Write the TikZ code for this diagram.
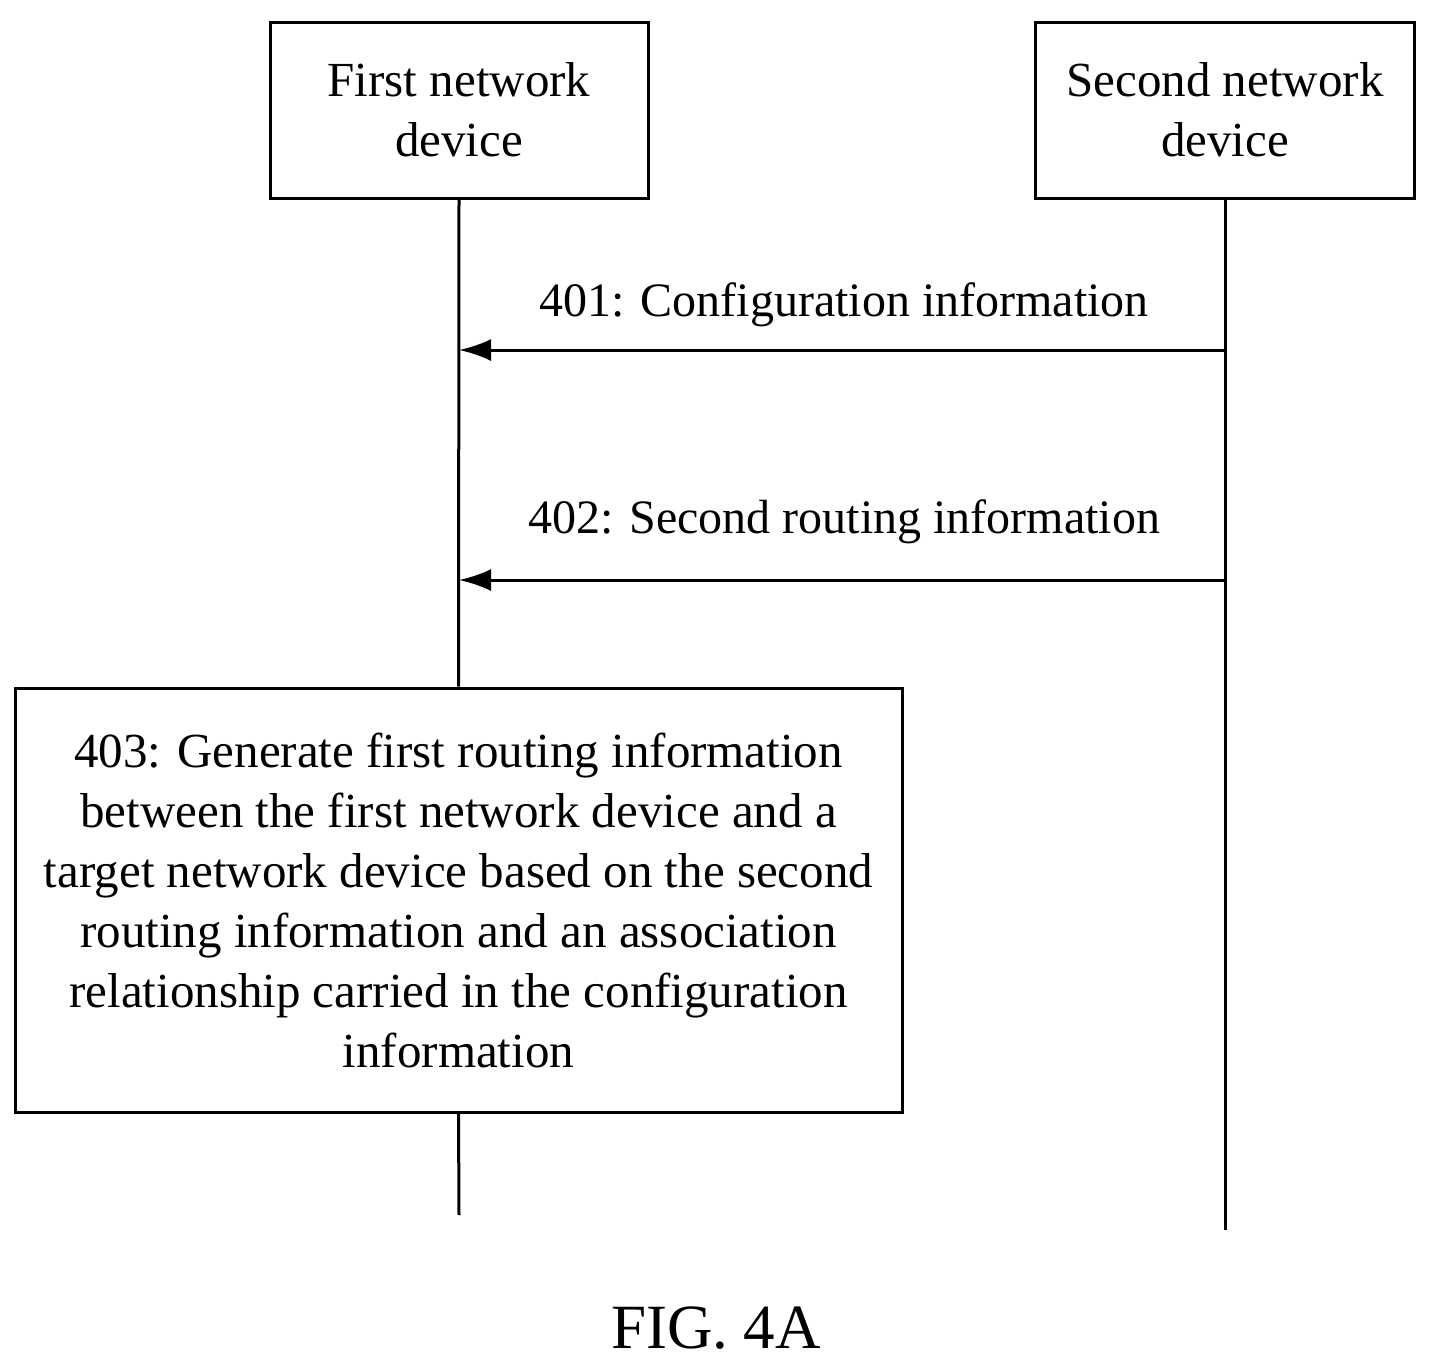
\documentclass[tikz,border=0pt]{standalone}
\usepackage{fontspec}
\setmainfont{Liberation Serif}
\usetikzlibrary{arrows.meta}
\begin{document}
\begin{tikzpicture}[x=1pt,y=-1pt,line width=3pt,
 box/.style={draw,align=center,inner sep=0pt,font=\fontsize{49}{60}\selectfont},
 lbl/.style={font=\fontsize{48}{56}\selectfont},
 msg/.style={-{Latex[length=32pt,width=22pt]}}]
\useasboundingbox (0,0) rectangle (1437,1369);
\node[box,minimum width=378pt,minimum height=176pt] (a) at (459,110) {First network\\device};
\node[box,minimum width=379pt,minimum height=176pt] (b) at (1225,110) {Second network\\device};
\node[box,minimum width=887pt,minimum height=424pt] (c) at (458.5,900) {403: Generate first routing information\\between the first network device and a\\target network device based on the second\\routing information and an association\\relationship carried in the configuration\\information};
\coordinate (aend) at (459,1215);
\coordinate (bend) at (1225,1230);
\coordinate (a1) at (459,350); \coordinate (b1) at (1225,350);
\coordinate (a2) at (459,580); \coordinate (b2) at (1225,580);
\draw (a.south) -- (c.north);
\draw (c.south) -- (aend);
\draw (b.south) -- (bend);
\draw[msg] (b1) -- (a1);
\draw[msg] (b2) -- (a2);
\node[lbl] (l1) at (844,305) {401: Configuration information};
\node[lbl] (l2) at (844,522) {402: Second routing information};
\node[font=\fontsize{63}{66}\selectfont] (f) at (716,1328) {FIG. 4A};
\end{tikzpicture}
\end{document}
